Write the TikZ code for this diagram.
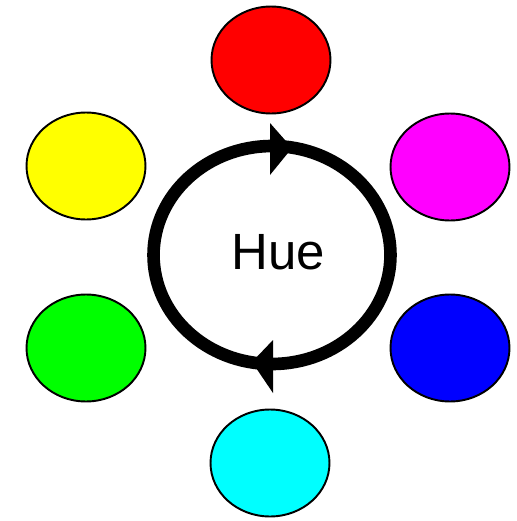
\documentclass[tikz,border=0pt]{standalone}
\usepackage{fontspec}
\setmainfont{Liberation Sans}
\usetikzlibrary{shapes.geometric}
\definecolor{rouge}{RGB}{255,0,0}
\definecolor{jaune}{RGB}{255,255,0}
\definecolor{pourpre}{RGB}{255,0,255}
\definecolor{vert}{RGB}{0,255,0}
\definecolor{bleu}{RGB}{0,0,255}
\definecolor{turquoise}{RGB}{0,255,255}
\tikzset{pastille/.style={ellipse,draw,line width=1.1pt,minimum width=2.38cm,
                          minimum height=2.14cm,inner sep=0pt}}

\begin{document}
\begin{tikzpicture}[x=0.02cm,y=-0.02cm]
      \useasboundingbox (0,0) rectangle (517,521);
      \foreach \coul/\xx/\yy in {rouge/271/60,jaune/86/166,pourpre/450/167,
                                 vert/86/348,bleu/450/348,turquoise/270/463}{\node[pastille,fill=\coul] (\coul) at (\xx,\yy) {};}
      \node[font=\fontsize{29}{30}\selectfont] (hue) at (278,252) {Hue};
      \draw[line width=7.2pt] (272,255) ellipse [x radius=2.37cm, y radius=2.18cm];
      \fill (270,123)--(292,148)--(270,175)--cycle;
      \fill (273,340)--(252,362)--(273,393)--cycle;
    \end{tikzpicture}
\end{document}
